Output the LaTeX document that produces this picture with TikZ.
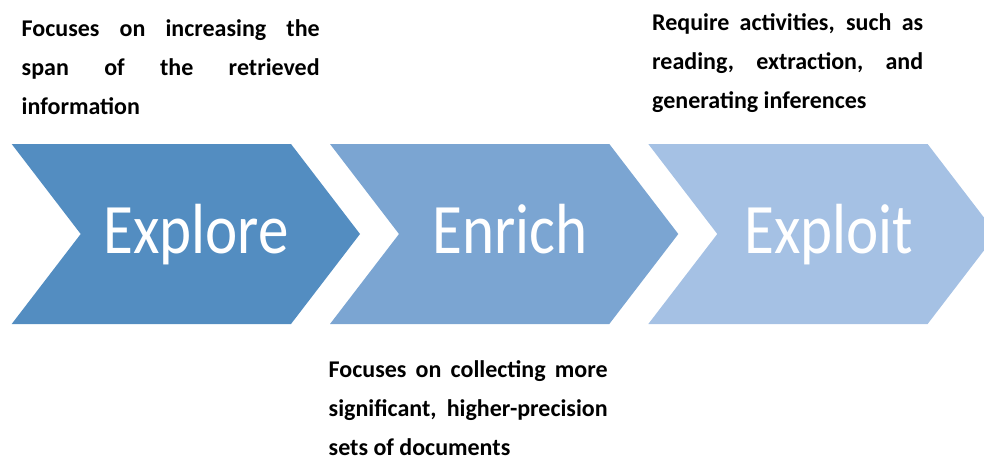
\documentclass[tikz,border=0pt]{standalone}
\usepackage{fontspec}
\usepackage{graphicx}
\setmainfont{Carlito}
\definecolor{chevA}{RGB}{83,141,193}
\definecolor{chevB}{RGB}{123,165,210}
\definecolor{chevC}{RGB}{165,193,228}
\begin{document}
\begin{tikzpicture}[x=1pt,y=-1pt]
\tikzset{
  chevlabel/.style={text=white,inner sep=0pt,anchor=base,font=\fontsize{71}{78}\selectfont},
  desc/.style={inner sep=0pt,anchor=base west,align=justify,font=\bfseries\fontsize{24}{38.7}\selectfont}
}
\useasboundingbox (0,0) rectangle (984,460);
\clip (0,0) rectangle (984,460);
\foreach \dx/\c in {0/chevA,318.3/chevB,636.6/chevC}{
  \fill[\c] (11.7+\dx,144) -- (291+\dx,144) -- (360+\dx,234) -- (291+\dx,324) -- (11.7+\dx,324) -- (80.7+\dx,234) -- cycle;
}
\node[chevlabel] (explore) at (196,253) {\scalebox{0.86}[1]{Explore}};
\node[chevlabel] (enrich) at (510,253) {\scalebox{0.86}[1]{Enrich}};
\node[chevlabel] (exploit) at (829,253) {\scalebox{0.86}[1]{Exploit}};
\node[desc,text width=298pt] (d1) at (21.5,36.7) {Focuses on increasing the\linebreak span of the retrieved\linebreak information};
\node[desc,text width=279pt] (d2) at (328.5,377.7) {Focuses on collecting more\linebreak significant, higher-precision\linebreak sets of documents};
\node[desc,text width=271pt] (d3) at (652,31) {Require activities, such as\linebreak reading, extraction, and\linebreak generating inferences};
\end{tikzpicture}
\end{document}
